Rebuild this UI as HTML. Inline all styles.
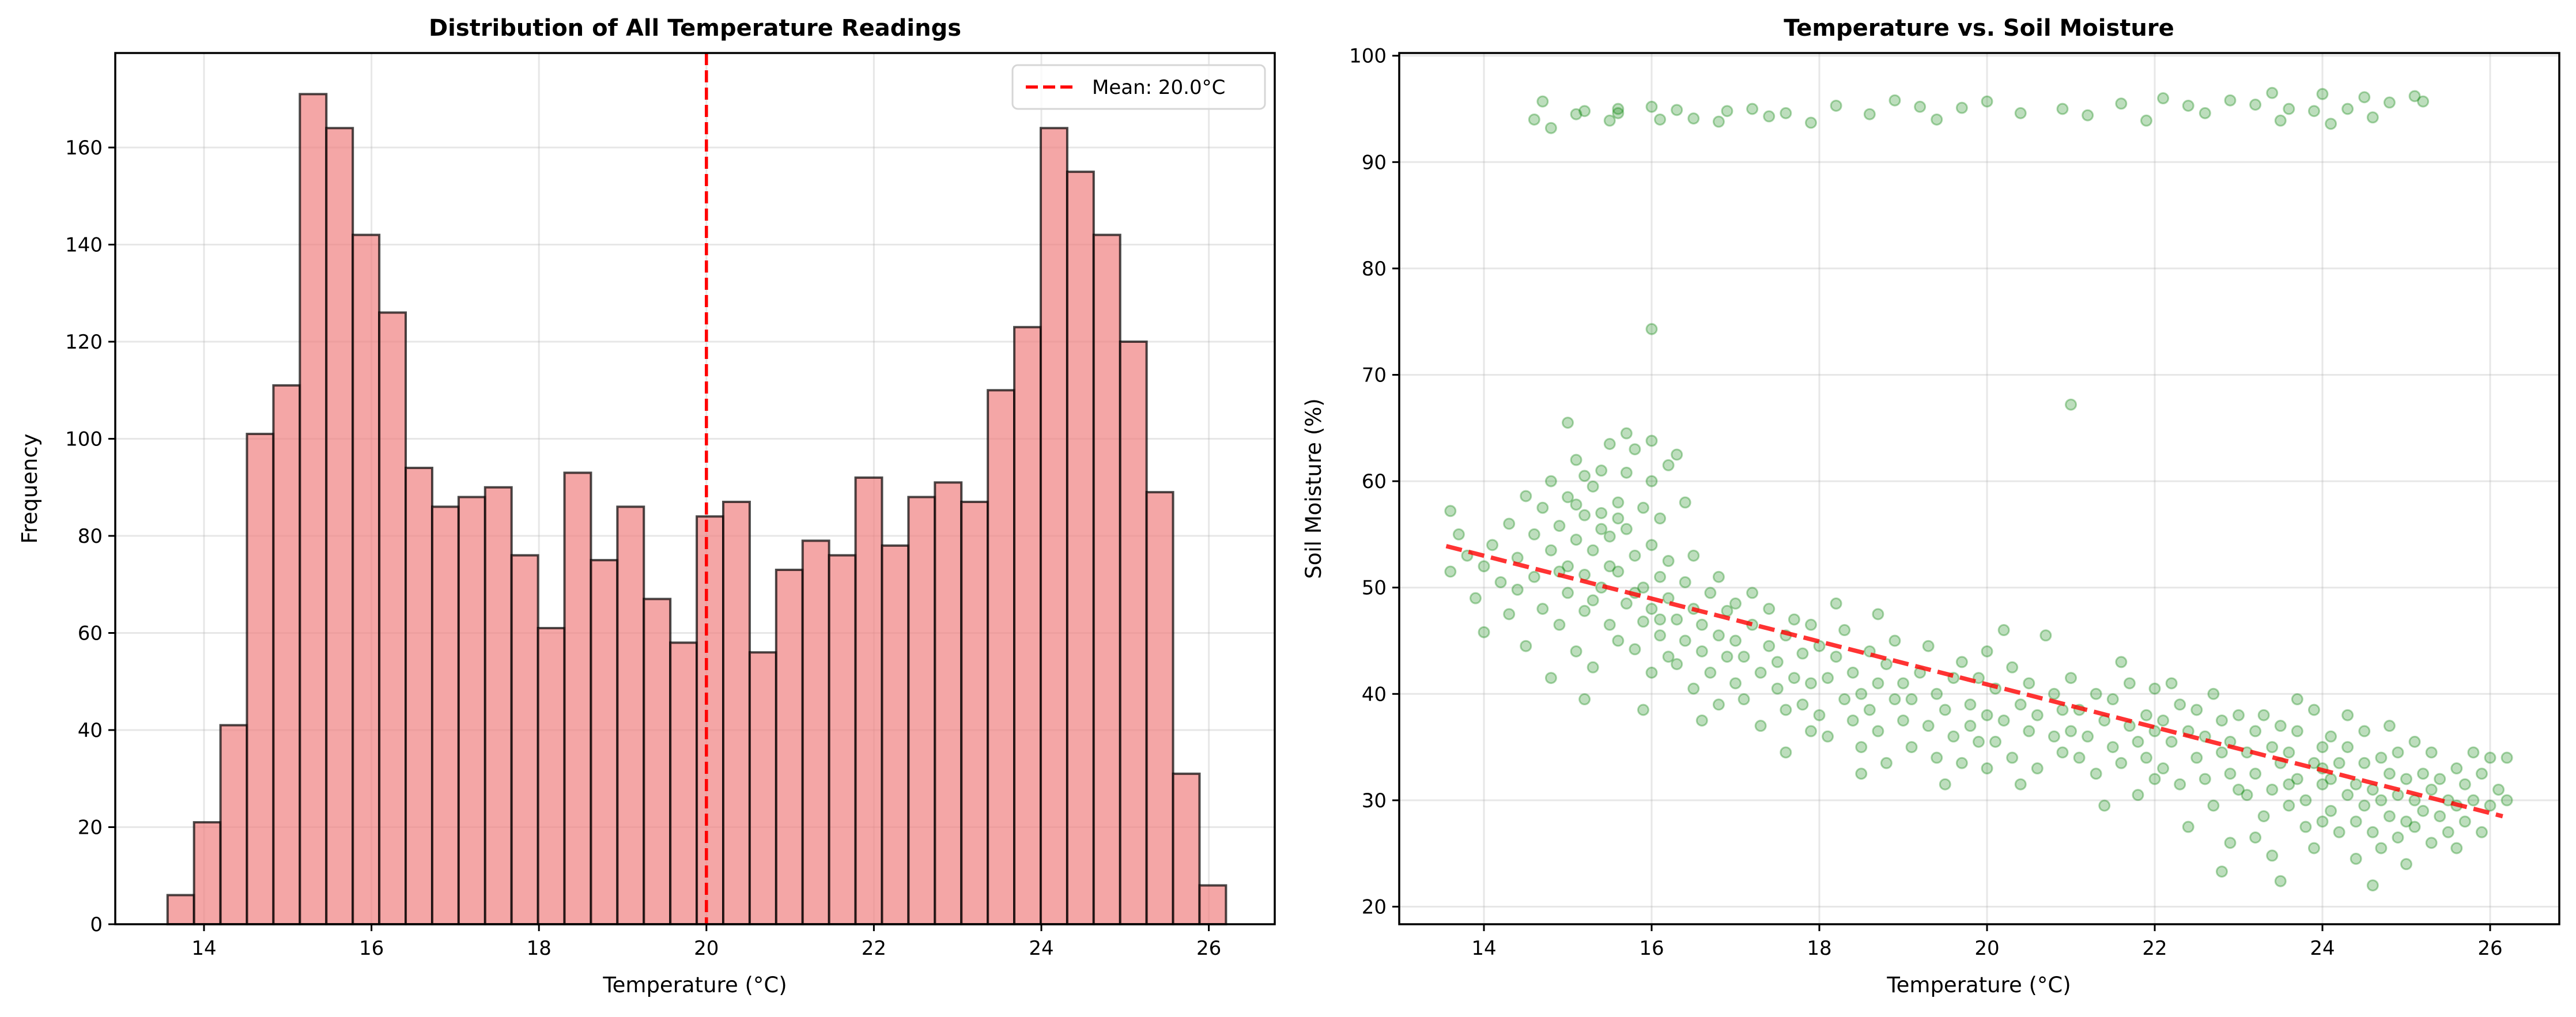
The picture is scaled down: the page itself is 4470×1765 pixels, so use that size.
<!DOCTYPE html>
<html><head><meta charset="utf-8">
<style>
html,body{margin:0;padding:0;background:#fff;}
svg{display:block;font-family:"DejaVu Sans","Liberation Sans",sans-serif;}
</style></head>
<body>
<svg id="fig" width="4470" height="1765" viewBox="0 0 4470 1765" xmlns="http://www.w3.org/2000/svg">
<rect width="4470" height="1765" fill="#fff"/>
<g id="left"></g>
<g id="right"></g>
</svg>
<script>
const histCounts=[6,21,41,101,111,171,164,142,126,94,86,88,90,76,61,93,75,86,67,58,84,87,56,73,79,76,92,78,88,91,87,110,123,164,155,142,120,89,31,8];
const histStart=[13.565];
const histBinWidth=[0.316];
const histMean=[20.0];
const histYTicks=[0,20,40,60,80,100,120,140,160];
const xTicks=[14,16,18,20,22,24,26];
const scatYTicks=[20,30,40,50,60,70,80,90,100];
const scatT=[13.6,13.6,13.7,13.8,13.9,14.0,14.0,14.1,14.2,14.3,14.3,14.4,14.5,14.5,14.4,
14.6,14.6,14.7,14.7,14.8,14.8,14.9,14.9,15.0,15.0,15.0,15.1,15.1,15.1,15.2,15.2,15.2,15.3,15.3,15.3,15.4,15.4,15.4,15.5,15.5,15.5,15.0,14.8,15.2,15.3,15.1,14.9,15.4,15.5,15.2,
15.6,15.6,15.6,15.7,15.7,15.7,15.8,15.8,15.8,15.9,15.9,15.9,16.0,16.0,16.0,16.0,16.1,16.1,16.1,16.2,16.2,16.2,15.7,16.0,15.9,16.1,15.6,15.8,16.0,16.2,
16.3,16.3,16.4,16.4,16.5,16.5,16.5,16.6,16.6,16.7,16.7,16.8,16.8,16.9,16.9,17.0,17.0,16.4,16.6,16.8,17.0,16.3,
17.1,17.1,17.2,17.3,17.3,17.4,17.4,17.5,17.5,17.6,17.6,17.7,17.7,17.8,17.8,17.9,17.9,18.0,18.0,17.2,17.6,17.9,
18.1,18.1,18.2,18.3,18.3,18.4,18.4,18.5,18.5,18.6,18.6,18.7,18.7,18.8,18.8,18.9,18.9,19.0,19.0,18.2,18.5,18.7,
19.1,19.1,19.2,19.3,19.3,19.4,19.4,19.5,19.6,19.6,19.7,19.7,19.8,19.8,19.9,19.9,20.0,20.0,19.5,20.0,
20.1,20.1,20.2,20.3,20.3,20.4,20.5,20.5,20.6,20.6,20.7,20.8,20.8,20.9,20.9,21.0,21.0,20.4,21.0,20.2,
21.1,21.1,21.2,21.3,21.3,21.4,21.5,21.5,21.6,21.7,21.7,21.8,21.8,21.9,21.9,22.0,22.0,21.4,21.6,22.0,
22.1,22.1,22.2,22.3,22.3,22.4,22.5,22.5,22.6,22.6,22.7,22.7,22.8,22.8,22.9,22.9,23.0,23.0,22.4,22.8,22.9,22.2,
23.1,23.1,23.2,23.2,23.3,23.3,23.4,23.4,23.5,23.5,23.6,23.6,23.7,23.7,23.8,23.8,23.9,23.9,24.0,24.0,24.0,23.5,23.7,23.9,23.2,23.6,24.0,23.4,
24.1,24.1,24.1,24.2,24.2,24.3,24.3,24.3,24.4,24.4,24.4,24.5,24.5,24.5,24.6,24.6,24.6,24.7,24.7,24.7,24.8,24.8,24.8,24.9,24.9,24.9,25.0,25.0,25.0,25.1,25.1,25.1,25.2,25.2,25.3,25.3,25.3,25.4,25.4,25.5,
25.5,25.6,25.6,25.6,25.7,25.7,25.8,25.8,25.9,25.9,26.0,26.0,26.1,26.2,26.2,
14.6,14.8,14.7,15.1,15.2,15.5,15.6,15.6,16.0,16.1,16.3,16.5,16.8,16.9,17.4,17.6,17.9,18.2,18.6,18.9,19.2,19.4,19.7,20.0,20.4,20.9,21.2,21.6,21.9,22.1,22.4,22.6,22.9,23.2,23.4,23.6,23.9,24.0,24.1,24.3,24.5,24.6,24.8,25.1,25.2,23.5,17.2];
const scatM=[57.2,51.5,55,53,49,52,45.8,54,50.5,56,47.5,52.8,58.6,44.5,49.8,
55,51,57.5,48,53.5,60,46.5,55.8,52,58.5,49.5,62,54.5,44,56.8,51.2,47.8,59.5,53.5,42.5,57,50,61,54.8,46.5,63.5,65.5,41.5,39.5,48.8,57.8,51.5,55.5,52,60.5,
58,51.5,45,55.5,60.8,48.5,53,63,44.2,57.5,50,46.8,60,54,42,48,56.5,45.5,51,61.5,43.5,49,64.5,74.3,38.5,47,56.5,49.5,63.8,52.5,
47,42.8,50.5,45,40.5,48,53,44,46.5,42,49.5,45.5,39,43.5,47.8,41,45,58,37.5,51,48.5,62.5,
43.5,39.5,46.5,42,37,44.5,48,40.5,43,38.5,45.5,41.5,47,39,43.8,36.5,41,44.5,38,49.5,34.5,46.5,
41.5,36,43.5,39.5,46,37.5,42,40,35,44,38.5,41,36.5,42.8,33.5,39.5,45,37.5,41,48.5,32.5,47.5,
39.5,35,42,37,44.5,40,34,38.5,41.5,36,43,33.5,39,37,35.5,41.5,38,44,31.5,33,
40.5,35.5,37.5,42.5,34,39,36.5,41,33,38,45.5,36,40,34.5,38.5,36.5,41.5,31.5,67.2,46,
38.5,34,36,40,32.5,37.5,35,39.5,33.5,37,41,35.5,30.5,38,34,36.5,40.5,29.5,43,32,
37.5,33,35.5,39,31.5,36.5,34,38.5,32,36,40,29.5,34.5,37.5,32.5,35.5,38,31,27.5,23.3,26,41,
34.5,30.5,36.5,32.5,38,28.5,35,31,33.5,37,29.5,34.5,32,36.5,30,27.5,33.5,38.5,31.5,35,28,22.4,39.5,25.5,26.5,31.5,33,24.8,
32,29,36,33.5,27,30.5,35,38,31.5,28,24.5,33.5,29.5,36.5,31,27,22,34,30,25.5,32.5,28.5,37,30.5,26.5,34.5,32,28,24,30,35.5,27.5,32.5,29,26,31,34.5,28.5,32,30,
27,33,29.5,25.5,31.5,28,34.5,30,27,32.5,29.5,34,31,30,34,
94.0,93.2,95.7,94.5,94.8,93.9,95.0,94.6,95.2,94.0,94.9,94.1,93.8,94.8,94.3,94.6,93.7,95.3,94.5,95.8,95.2,94.0,95.1,95.7,94.6,95.0,94.4,95.5,93.9,96.0,95.3,94.6,95.8,95.4,96.5,95.0,94.8,96.4,93.6,95.0,96.1,94.2,95.6,96.2,95.7,93.9,95.0];
const fitStart=[13.55,53.9];
const fitEnd=[26.15,28.5];

const NS="http://www.w3.org/2000/svg";
function mk(parent,tag,attrs,text){const e=document.createElementNS(NS,tag);for(const k in attrs)e.setAttribute(k,attrs[k]);if(text!==undefined)e.textContent=text;parent.appendChild(e);return e;}

// LEFT
const L=document.getElementById('left');
const lx=v=>354+(v-14)*145.3, ly=v=>1604-v*8.425;
const LX0=200,LX1=2212,TOP=92,BOT=1604;
for(const t of xTicks){mk(L,'line',{x1:lx(t),x2:lx(t),y1:TOP,y2:BOT,stroke:'#b0b0b0','stroke-opacity':0.3,'stroke-width':3});}
for(const t of histYTicks){mk(L,'line',{x1:LX0,x2:LX1,y1:ly(t),y2:ly(t),stroke:'#b0b0b0','stroke-opacity':0.3,'stroke-width':3});}
for(let i=0;i<histCounts.length;i++){
  const x0=lx(histStart[0]+i*histBinWidth[0]), x1=lx(histStart[0]+(i+1)*histBinWidth[0]);
  const b=mk(L,'rect',{x:x0,y:ly(histCounts[i]),width:x1-x0,height:BOT-ly(histCounts[i]),fill:'#f08080','fill-opacity':0.7,stroke:'#000','stroke-opacity':0.7,'stroke-width':4});
  
  
}
const ml=mk(L,'line',{x1:lx(histMean[0]),x2:lx(histMean[0]),y1:TOP,y2:BOT,stroke:'#ff0000','stroke-width':5.5,'stroke-dasharray':'21 9'});

mk(L,'rect',{x:LX0,y:TOP,width:LX1-LX0,height:BOT-TOP,fill:'none',stroke:'#000','stroke-width':3.5});
for(const t of xTicks){mk(L,'line',{x1:lx(t),x2:lx(t),y1:BOT,y2:BOT+12,stroke:'#000','stroke-width':3});
  const tx=mk(L,'text',{x:lx(t),y:BOT+53,'font-size':34,'text-anchor':'middle'},String(t));}
for(const t of histYTicks){mk(L,'line',{x1:LX0-12,x2:LX0,y1:ly(t),y2:ly(t),stroke:'#000','stroke-width':3});
  const tx=mk(L,'text',{x:LX0-22,y:ly(t)+12,'font-size':34,'text-anchor':'end'},String(t));}
let e;
e=mk(L,'text',{x:1206,y:62,'font-size':40,'font-weight':'bold','text-anchor':'middle'},'Distribution of All Temperature Readings');
e=mk(L,'text',{x:1206,y:1722,'font-size':37,'text-anchor':'middle'},'Temperature (°C)');
e=mk(L,'text',{x:64,y:848,'font-size':37,'text-anchor':'middle',transform:'rotate(-90 64 848)'},'Frequency');
const lg=mk(L,'g',{});
mk(lg,'rect',{x:1757,y:113,width:438,height:76,rx:9,fill:'#fff','fill-opacity':0.8,stroke:'#d6d6d6','stroke-width':3});
mk(lg,'line',{x1:1780,x2:1862,y1:151,y2:151,stroke:'#ff0000','stroke-width':5.5,'stroke-dasharray':'21 9'});
e=mk(lg,'text',{x:1895,y:163,'font-size':34},'Mean: 20.0°C');

// RIGHT
const R=document.getElementById('right');
const rx=v=>4030+(v-24)*145.5, ry=v=>1573.5-(v-20)*18.46;
const RX0=2428,RX1=4441;
for(const t of xTicks){mk(R,'line',{x1:rx(t),x2:rx(t),y1:TOP,y2:BOT,stroke:'#b0b0b0','stroke-opacity':0.3,'stroke-width':3});}
for(const t of scatYTicks){mk(R,'line',{x1:RX0,x2:RX1,y1:ry(t),y2:ry(t),stroke:'#b0b0b0','stroke-opacity':0.3,'stroke-width':3});}
const pts=mk(R,'g',{});
for(let i=0;i<scatT.length;i++){
  const c=mk(pts,'circle',{cx:rx(scatT[i]),cy:ry(scatM[i]),r:9,fill:'#008000','fill-opacity':0.26,stroke:'#008000','stroke-opacity':0.32,'stroke-width':3});
  
  
}
e=mk(R,'line',{x1:rx(fitStart[0]),y1:ry(fitStart[1]),x2:rx(fitEnd[0]),y2:ry(fitEnd[1]),stroke:'#ff0000','stroke-opacity':0.8,'stroke-width':7.5,'stroke-dasharray':'28 12'});

mk(R,'rect',{x:RX0,y:TOP,width:RX1-RX0,height:BOT-TOP,fill:'none',stroke:'#000','stroke-width':3.5});
for(const t of xTicks){mk(R,'line',{x1:rx(t),x2:rx(t),y1:BOT,y2:BOT+12,stroke:'#000','stroke-width':3});
  const tx=mk(R,'text',{x:rx(t),y:BOT+53,'font-size':34,'text-anchor':'middle'},String(t));}
for(const t of scatYTicks){mk(R,'line',{x1:RX0-12,x2:RX0,y1:ry(t),y2:ry(t),stroke:'#000','stroke-width':3});
  const tx=mk(R,'text',{x:RX0-22,y:ry(t)+12,'font-size':34,'text-anchor':'end'},String(t));}
e=mk(R,'text',{x:3434,y:62,'font-size':40,'font-weight':'bold','text-anchor':'middle'},'Temperature vs. Soil Moisture');
e=mk(R,'text',{x:3434,y:1722,'font-size':37,'text-anchor':'middle'},'Temperature (°C)');
e=mk(R,'text',{x:2292,y:848,'font-size':37,'text-anchor':'middle',transform:'rotate(-90 2292 848)'},'Soil Moisture (%)');
</script>
</body></html>
